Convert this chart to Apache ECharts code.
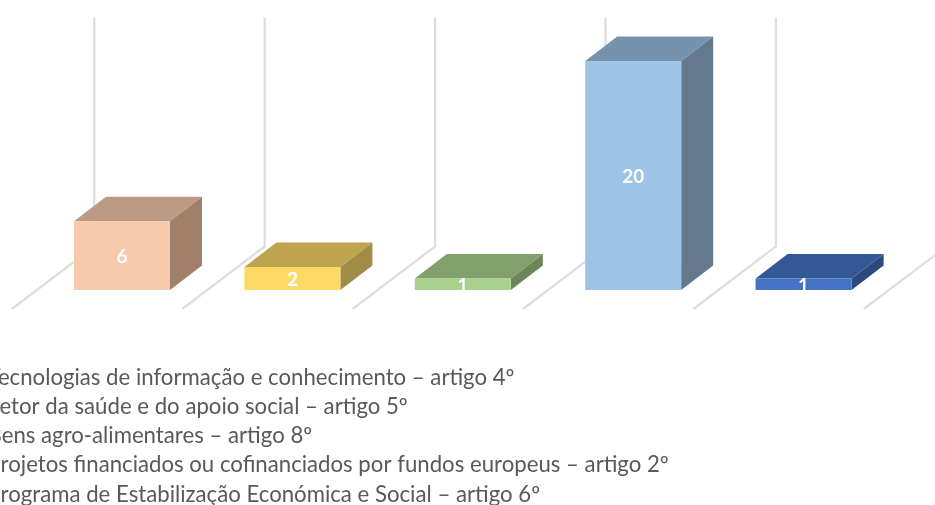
<!DOCTYPE html>
<html>
<head>
<meta charset="utf-8">
<style>html,body{margin:0;padding:0;background:#fff}#c{width:935px;height:505px}</style>
<script src="https://cdn.jsdelivr.net/npm/echarts@6/dist/echarts.min.js"></script>
</head>
<body>
<div id="c"></div>
<script>
var categories = [
  'Tecnologias de informação e conhecimento – artigo 4º',
  'Setor da saúde e do apoio social – artigo 5º',
  'Bens agro-alimentares – artigo 8º',
  'Projetos financiados ou cofinanciados por fundos europeus – artigo 2º',
  'Programa de Estabilização Económica e Social – artigo 6º'
];
var values = [6, 2, 1, 20, 1];
var frontColors = ['#F7CAAC', '#FFD966', '#A9D18E', '#9DC3E6', '#4472C4'];
var topColors = ['#BC9A83', '#BFA44F', '#81A06C', '#7593AE', '#345796'];
var sideColors = ['#A0806B', '#A08C45', '#6C865A', '#64798F', '#2C4A7F'];

var DEPTH_X = 32, DEPTH_Y = 24.5;      // bar depth in pixels
var WALL_X = 57.5, WALL_Y = 43.5;      // floor depth behind the front plane
var FLOOR_X = 25, FLOOR_Y = 19;        // floor in front of the front plane
var BAR_RATIO = 0.5634;

function gridLines(params, api) {
  var i = api.value(0);
  var band = api.size([1, 0])[0];
  var base = api.coord([i, 0]);
  var topY = api.coord([i, 20])[1];
  var xs = [base[0] - band / 2];
  if (i === categories.length - 1) xs.push(base[0] + band / 2);
  var style = { stroke: '#DDDDDD', lineWidth: 2.2, fill: null };
  var children = [];
  xs.forEach(function (x) {
    children.push({
      type: 'polyline',
      shape: { points: [
        [x + WALL_X, topY - WALL_Y],
        [x + WALL_X, base[1] - WALL_Y],
        [x - FLOOR_X, base[1] + FLOOR_Y]
      ] },
      style: style
    });
  });
  return { type: 'group', children: children };
}

function bar3d(params, api) {
  var i = api.value(0);
  var band = api.size([1, 0])[0];
  var w = band * BAR_RATIO;
  var b = api.coord([i, 0]);
  var t = api.coord([i, api.value(1)]);
  var x0 = b[0] - w / 2, x1 = b[0] + w / 2, y0 = b[1], y1 = t[1];
  return {
    type: 'group',
    children: [
      { type: 'polygon', shape: { points: [[x0, y1], [x1, y1], [x1 + DEPTH_X, y1 - DEPTH_Y], [x0 + DEPTH_X, y1 - DEPTH_Y]] },
        style: { fill: topColors[i] } },
      { type: 'polygon', shape: { points: [[x1, y0], [x1, y1], [x1 + DEPTH_X, y1 - DEPTH_Y], [x1 + DEPTH_X, y0 - DEPTH_Y]] },
        style: { fill: sideColors[i] } },
      { type: 'rect', shape: { x: x0, y: y1, width: w, height: y0 - y1 },
        style: { fill: frontColors[i] } },
      { type: 'text', x: b[0], y: (y0 + y1) / 2 + 1.5,
        style: { text: String(api.value(1)), fill: '#fff', font: 'bold 19px Lato', align: 'center', verticalAlign: 'middle' } }
    ]
  };
}

var chart = echarts.init(document.getElementById('c'), null, { renderer: 'canvas' });
chart.setOption({
  animation: false,
  grid: { left: 36.8, right: 46.2, top: 61, bottom: 215 },
  xAxis: { type: 'category', data: categories, show: false },
  yAxis: { type: 'value', min: 0, max: 20, show: false },
  series: [
    { type: 'custom', z: 1, silent: true, renderItem: gridLines,
      encode: { x: 0, y: 1 },
      data: values.map(function (v, i) { return [i, 0]; }) },
    { type: 'custom', z: 2, silent: true, renderItem: bar3d,
      encode: { x: 0, y: 1 },
      data: values.map(function (v, i) { return [i, v]; }) }
  ],
  graphic: categories.map(function (name, i) {
    return {
      type: 'text', left: -12.5, top: 367 + i * 29.1,
      style: { text: name, fill: '#595959', font: '22.2px Lato' }
    };
  })
});
</script>
</body>
</html>
